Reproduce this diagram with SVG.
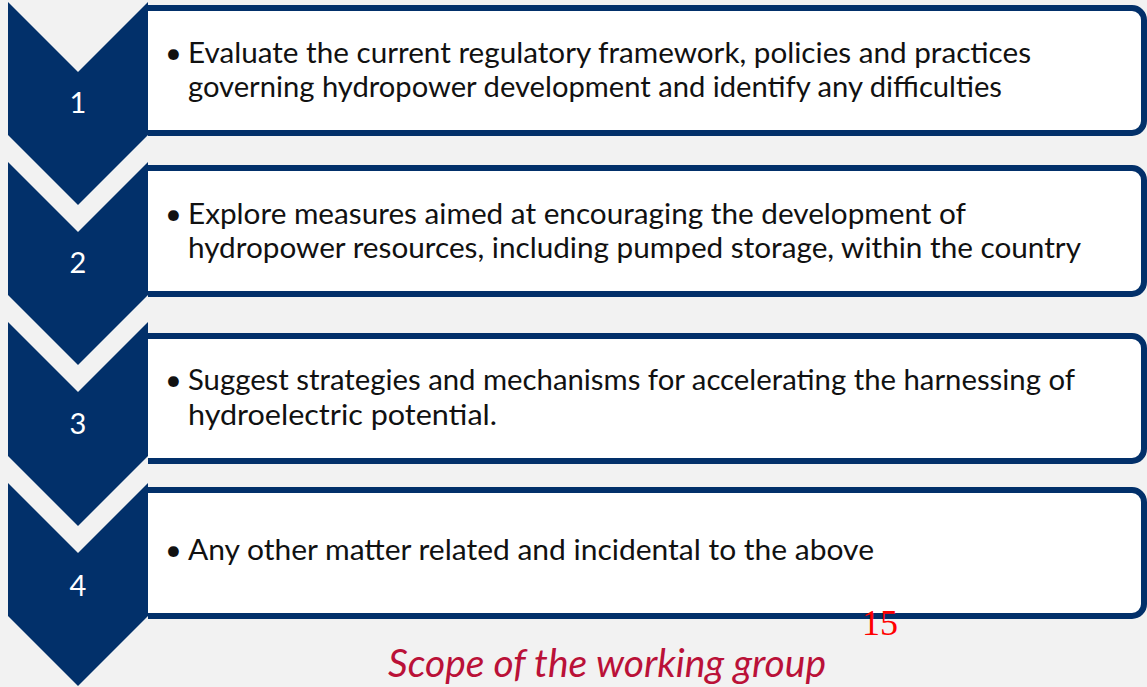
<svg xmlns="http://www.w3.org/2000/svg" width="1147" height="687" viewBox="0 0 1147 687">
  <style>
    .chev { fill: #02306A; }
    .box { fill: #FFFFFF; stroke: #02306A; stroke-width: 6; stroke-linecap: butt; }
    .num { font-family: Lato, "Liberation Sans", sans-serif; font-size: 29px; fill: #FFFFFF; text-anchor: middle; }
    .txt { font-family: Lato, "Liberation Sans", sans-serif; font-size: 29px; fill: #111111; }
    .title { font-family: Lato, "Liberation Sans", sans-serif; font-style: italic; font-size: 38px; fill: #BA1138; }
    .page { font-family: "Liberation Serif", serif; font-size: 36px; fill: #FF0000; }
  </style>

  <rect width="1147" height="687" fill="#F2F2F2"/>

  <!-- step 1 -->
  <g id="step1">
    <path class="box" d="M148,8 H1132 A12,12 0 0 1 1144,20 V121 A12,12 0 0 1 1132,133 H148"/>
    <polygon class="chev" points="8,2 78,72 148,2 148,135 78,205 8,135"/>
    <text class="num" x="78" y="113">1</text>
    <text class="txt" x="165" y="63">•</text>
    <text class="txt" x="188" y="63" textLength="843" lengthAdjust="spacingAndGlyphs">Evaluate the current regulatory framework, policies and practices</text>
    <text class="txt" x="188" y="97" textLength="814" lengthAdjust="spacingAndGlyphs">governing hydropower development and identify any difficulties</text>
  </g>

  <!-- step 2 -->
  <g id="step2">
    <path class="box" d="M148,168 H1132 A12,12 0 0 1 1144,180 V282 A12,12 0 0 1 1132,294 H148"/>
    <polygon class="chev" points="8,162 78,232 148,162 148,295 78,365 8,295"/>
    <text class="num" x="78" y="273">2</text>
    <text class="txt" x="165" y="224">•</text>
    <text class="txt" x="188" y="224" textLength="778" lengthAdjust="spacingAndGlyphs">Explore measures aimed at encouraging the development of</text>
    <text class="txt" x="188" y="258" textLength="893" lengthAdjust="spacingAndGlyphs">hydropower resources, including pumped storage, within the country</text>
  </g>

  <!-- step 3 -->
  <g id="step3">
    <path class="box" d="M148,336 H1132 A12,12 0 0 1 1144,348 V449 A12,12 0 0 1 1132,461 H148"/>
    <polygon class="chev" points="8,322 78,392 148,322 148,456 78,526 8,456"/>
    <text class="num" x="78" y="434">3</text>
    <text class="txt" x="165" y="390">•</text>
    <text class="txt" x="188" y="390" textLength="887" lengthAdjust="spacingAndGlyphs">Suggest strategies and mechanisms for accelerating the harnessing of</text>
    <text class="txt" x="188" y="425" textLength="309" lengthAdjust="spacingAndGlyphs">hydroelectric potential.</text>
  </g>

  <!-- step 4 -->
  <g id="step4">
    <path class="box" d="M148,490 H1132 A12,12 0 0 1 1144,502 V604 A12,12 0 0 1 1132,616 H148"/>
    <polygon class="chev" points="8,483 78,553 148,483 148,616 78,686 8,616"/>
    <text class="num" x="78" y="596">4</text>
    <text class="txt" x="165" y="560">•</text>
    <text class="txt" x="188" y="560" textLength="686" lengthAdjust="spacingAndGlyphs">Any other matter related and incidental to the above</text>
  </g>

  <!-- page number and caption -->
  <g id="page-number">
    <text class="page" x="862" y="635">15</text>
  </g>
  <g id="caption">
    <text class="title" x="388" y="677" textLength="438" lengthAdjust="spacingAndGlyphs">Scope of the working group</text>
  </g>
</svg>
